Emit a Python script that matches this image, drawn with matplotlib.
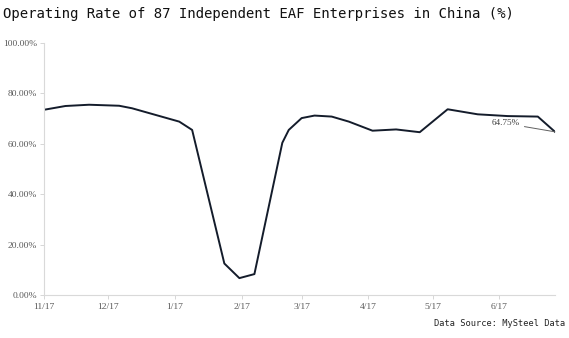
import matplotlib
matplotlib.use("Agg")
from matplotlib import pyplot as plt
import pandas as pd

# weekly-ish readings of the operating rate
dates = ["2017-11-01", "2017-11-11", "2017-11-22", "2017-12-06", "2017-12-12",
         "2018-01-03", "2018-01-09", "2018-01-24", "2018-01-31", "2018-02-07",
         "2018-02-20", "2018-02-23", "2018-03-01", "2018-03-07", "2018-03-15",
         "2018-03-23", "2018-04-03", "2018-04-14", "2018-04-25", "2018-05-08",
         "2018-05-22", "2018-06-05", "2018-06-19", "2018-06-27"]
rates = [73.5, 75.0, 75.5, 75.1, 74.1,
         68.8, 65.5, 12.5, 6.7, 8.3,
         60.4, 65.5, 70.2, 71.2, 70.8,
         68.8, 65.2, 65.7, 64.6, 73.7,
         71.7, 71.0, 70.8, 64.75]

month_ticks = ["2017-11-01", "2017-12-01", "2018-01-01", "2018-02-01",
               "2018-03-01", "2018-04-01", "2018-05-01", "2018-06-01"]
month_labels = ["11/17", "12/17", "1/17", "2/17", "3/17", "4/17", "5/17", "6/17"]
y_ticks = [0, 20, 40, 60, 80, 100]

x = pd.to_datetime(dates)
y = [r / 100 for r in rates]

fig = plt.figure(figsize=(5.69, 3.38), dpi=100)
ax = fig.add_axes([0.0773, 0.1272, 0.8981, 0.7456])

ax.plot(x, y, color="#141c2b", linewidth=1.4, solid_joinstyle="round")

ax.set_xlim(x[0], x[-1])
ax.set_ylim(0, 1)

ax.set_xticks(pd.to_datetime(month_ticks))
ax.set_xticklabels(month_labels)
ax.set_yticks([v / 100 for v in y_ticks])
ax.set_yticklabels([f"{v:.2f}%" for v in y_ticks])

for lab in ax.get_xticklabels() + ax.get_yticklabels():
    lab.set_family("Liberation Serif")
    lab.set_fontsize(6.8)
    lab.set_color("#595959")

ax.tick_params(axis="y", length=3, width=0.6, color="#d0d0d0", pad=2)
ax.tick_params(axis="x", length=3, width=0.6, color="#d0d0d0", pad=3)

for side in ["top", "right"]:
    ax.spines[side].set_visible(False)
for side in ["left", "bottom"]:
    ax.spines[side].set_color("#d9d9d9")
    ax.spines[side].set_linewidth(0.8)

# label for the last reading
ax.annotate(f"{rates[-1]:.2f}%", xy=(x[-1], y[-1]),
            xytext=(-25, 6), textcoords="offset points",
            ha="right", va="center", fontsize=6.6, color="#404040",
            family="Liberation Serif",
            arrowprops=dict(arrowstyle="-", color="#606060", lw=0.7,
                            shrinkA=1, shrinkB=0))

fig.text(0.005, 1 - 14 / 338, "Operating Rate of 87 Independent EAF Enterprises in China (%)",
         ha="left", va="center", fontsize=10.05, family="DejaVu Sans Mono", color="#111111")
fig.text(0.993, 1 - 323 / 338, "Data Source: MySteel Data",
         ha="right", va="center", fontsize=6.2, family="DejaVu Sans Mono", color="#222222")

fig.savefig("out.png", dpi=100)
